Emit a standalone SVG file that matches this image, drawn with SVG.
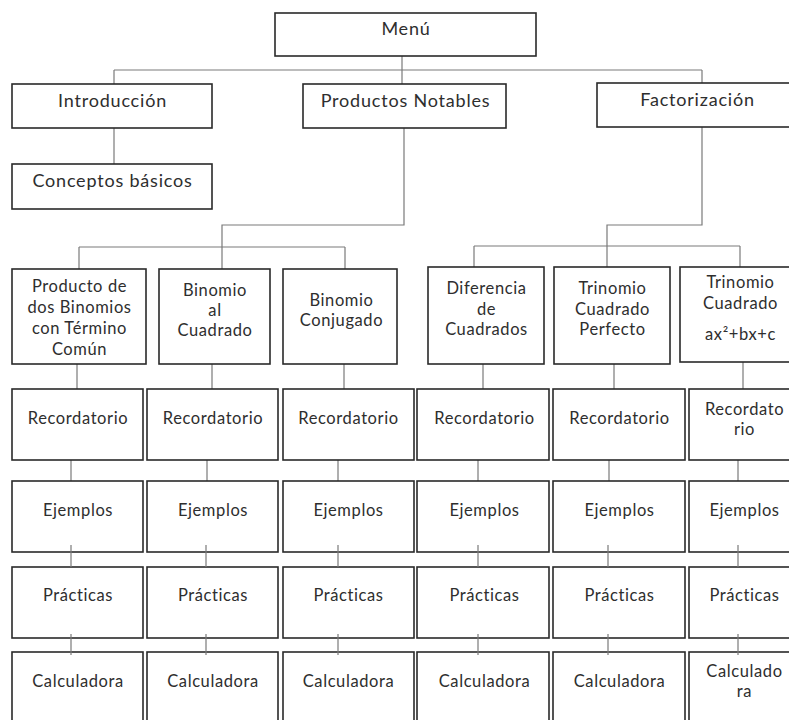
<svg xmlns="http://www.w3.org/2000/svg" width="789" height="720" viewBox="0 0 789 720">
  <style>
    .box { fill: #ffffff; stroke: #2a2a2a; stroke-width: 1.6; }
    .link { fill: none; stroke: #7a7a7a; stroke-width: 1.2; }
    .t { font-family: Lato, "Open Sans", "DejaVu Sans", sans-serif; fill: #2e2e2e; text-anchor: middle; }
    .big { font-size: 18px; letter-spacing: 0.8px; }
    .sm { font-size: 16.5px; letter-spacing: 0.6px; }
  </style>
  <rect width="789" height="720" fill="#ffffff"/>

  <!-- connectors -->
  <g id="connectors">
    <!-- menu to first level -->
    <path class="link" d="M402 56 V84"/>
    <path class="link" d="M114 70 H702"/>
    <path class="link" d="M114 70 V84"/>
    <path class="link" d="M702 70 V83"/>
    <path class="link" d="M114 128 V164"/>
    <!-- Productos Notables branch -->
    <path class="link" d="M404 128 V225 H222 V247"/>
    <path class="link" d="M79 247 H345"/>
    <path class="link" d="M79 247 V269"/>
    <path class="link" d="M222 247 V269"/>
    <path class="link" d="M345 247 V269"/>
    <!-- Factorizacion branch -->
    <path class="link" d="M702 127 V225 H607 V246"/>
    <path class="link" d="M474 246 H740"/>
    <path class="link" d="M474 246 V267"/>
    <path class="link" d="M607 246 V267"/>
    <path class="link" d="M740 246 V267"/>
    <!-- topic to Recordatorio -->
    <path class="link" d="M77 364 V389"/>
    <path class="link" d="M212 364 V389"/>
    <path class="link" d="M344 364 V389"/>
    <path class="link" d="M483 364 V389"/>
    <path class="link" d="M614 364 V389"/>
    <path class="link" d="M743 362 V389"/>
    <!-- Recordatorio to Ejemplos -->
    <path class="link" d="M71 460 V481"/>
    <path class="link" d="M207 460 V481"/>
    <path class="link" d="M338 460 V481"/>
    <path class="link" d="M478 460 V481"/>
    <path class="link" d="M609 460 V481"/>
    <path class="link" d="M738 460 V481"/>
  </g>

  <!-- top level -->
  <g id="menu"><rect class="box" x="275" y="13" width="261" height="43"/><text class="t big" x="406" y="35">Menú</text></g>
  <g id="introduccion"><rect class="box" x="12" y="84" width="200" height="44"/><text class="t big" x="112.5" y="107">Introducción</text></g>
  <g id="conceptos"><rect class="box" x="12" y="164" width="200" height="45"/><text class="t big" x="112.5" y="187">Conceptos básicos</text></g>
  <g id="productos"><rect class="box" x="303" y="84" width="203" height="44"/><text class="t big" x="405.5" y="107">Productos Notables</text></g>
  <g id="factorizacion"><rect class="box" x="597" y="83" width="200" height="44"/><text class="t big" x="697.5" y="106">Factorización</text></g>

  <!-- topics -->
  <g id="producto-binomios"><rect class="box" x="12" y="269" width="134" height="95"/>
    <text class="t sm" x="79.5" y="292">Producto de</text><text class="t sm" x="79.5" y="313">dos Binomios</text><text class="t sm" x="79.5" y="334">con Término</text><text class="t sm" x="79.5" y="355">Común</text></g>
  <g id="binomio-cuadrado"><rect class="box" x="159" y="269" width="111" height="95"/>
    <text class="t sm" x="215" y="296">Binomio</text><text class="t sm" x="215" y="316">al</text><text class="t sm" x="215" y="336">Cuadrado</text></g>
  <g id="binomio-conjugado"><rect class="box" x="283" y="269" width="114" height="95"/>
    <text class="t sm" x="341.5" y="306">Binomio</text><text class="t sm" x="341.5" y="326">Conjugado</text></g>
  <g id="diferencia-cuadrados"><rect class="box" x="428" y="267" width="116" height="97"/>
    <text class="t sm" x="486.5" y="294">Diferencia</text><text class="t sm" x="486.5" y="315">de</text><text class="t sm" x="486.5" y="335">Cuadrados</text></g>
  <g id="trinomio-perfecto"><rect class="box" x="554" y="267" width="116" height="97"/>
    <text class="t sm" x="612.5" y="294">Trinomio</text><text class="t sm" x="612.5" y="315">Cuadrado</text><text class="t sm" x="612.5" y="335">Perfecto</text></g>
  <g id="trinomio-general"><rect class="box" x="680" y="267" width="120" height="95"/>
    <text class="t sm" x="740.5" y="288">Trinomio</text><text class="t sm" x="740.5" y="309">Cuadrado</text><text class="t sm" x="740.5" y="340">ax²+bx+c</text></g>

  <!-- Recordatorio row -->
  <g id="rec-1"><rect class="box" x="12" y="389" width="131" height="71"/><text class="t sm" x="78" y="424">Recordatorio</text></g>
  <g id="rec-2"><rect class="box" x="147" y="389" width="131" height="71"/><text class="t sm" x="213" y="424">Recordatorio</text></g>
  <g id="rec-3"><rect class="box" x="283" y="389" width="131" height="71"/><text class="t sm" x="348.5" y="424">Recordatorio</text></g>
  <g id="rec-4"><rect class="box" x="417" y="389" width="132" height="71"/><text class="t sm" x="484.5" y="424">Recordatorio</text></g>
  <g id="rec-5"><rect class="box" x="553" y="389" width="132" height="71"/><text class="t sm" x="619.5" y="424">Recordatorio</text></g>
  <g id="rec-6"><rect class="box" x="689" y="389" width="110" height="71"/><text class="t sm" x="744.5" y="415">Recordato</text><text class="t sm" x="744.5" y="435">rio</text></g>

  <!-- Ejemplos row -->
  <g id="ej-1"><rect class="box" x="12" y="481" width="131" height="71"/><text class="t sm" x="78" y="516">Ejemplos</text></g>
  <g id="ej-2"><rect class="box" x="147" y="481" width="131" height="71"/><text class="t sm" x="213" y="516">Ejemplos</text></g>
  <g id="ej-3"><rect class="box" x="283" y="481" width="131" height="71"/><text class="t sm" x="348.5" y="516">Ejemplos</text></g>
  <g id="ej-4"><rect class="box" x="417" y="481" width="132" height="71"/><text class="t sm" x="484.5" y="516">Ejemplos</text></g>
  <g id="ej-5"><rect class="box" x="553" y="481" width="132" height="71"/><text class="t sm" x="619.5" y="516">Ejemplos</text></g>
  <g id="ej-6"><rect class="box" x="689" y="481" width="110" height="71"/><text class="t sm" x="744.5" y="516">Ejemplos</text></g>

  <!-- Practicas row -->
  <g id="pr-1"><rect class="box" x="12" y="567" width="131" height="71"/><text class="t sm" x="78" y="601">Prácticas</text></g>
  <g id="pr-2"><rect class="box" x="147" y="567" width="131" height="71"/><text class="t sm" x="213" y="601">Prácticas</text></g>
  <g id="pr-3"><rect class="box" x="283" y="567" width="131" height="71"/><text class="t sm" x="348.5" y="601">Prácticas</text></g>
  <g id="pr-4"><rect class="box" x="417" y="567" width="132" height="71"/><text class="t sm" x="484.5" y="601">Prácticas</text></g>
  <g id="pr-5"><rect class="box" x="553" y="567" width="132" height="71"/><text class="t sm" x="619.5" y="601">Prácticas</text></g>
  <g id="pr-6"><rect class="box" x="689" y="567" width="110" height="71"/><text class="t sm" x="744.5" y="601">Prácticas</text></g>

  <!-- Calculadora row -->
  <g id="calc-1"><rect class="box" x="12" y="652" width="131" height="80"/><text class="t sm" x="78" y="687">Calculadora</text></g>
  <g id="calc-2"><rect class="box" x="147" y="652" width="131" height="80"/><text class="t sm" x="213" y="687">Calculadora</text></g>
  <g id="calc-3"><rect class="box" x="283" y="652" width="131" height="80"/><text class="t sm" x="348.5" y="687">Calculadora</text></g>
  <g id="calc-4"><rect class="box" x="417" y="652" width="132" height="80"/><text class="t sm" x="484.5" y="687">Calculadora</text></g>
  <g id="calc-5"><rect class="box" x="553" y="652" width="132" height="80"/><text class="t sm" x="619.5" y="687">Calculadora</text></g>
  <g id="calc-6"><rect class="box" x="689" y="652" width="110" height="80"/><text class="t sm" x="744.5" y="677">Calculado</text><text class="t sm" x="744.5" y="697">ra</text></g>

  <!-- short ticks that run over the box edges between lower rows -->
  <g id="connectors-lower">
    <path class="link" d="M71 545 V567"/>
    <path class="link" d="M206 545 V567"/>
    <path class="link" d="M338 545 V567"/>
    <path class="link" d="M478 545 V567"/>
    <path class="link" d="M608 545 V567"/>
    <path class="link" d="M738 545 V567"/>
    <path class="link" d="M71 634 V655"/>
    <path class="link" d="M206 634 V655"/>
    <path class="link" d="M338 634 V655"/>
    <path class="link" d="M478 634 V655"/>
    <path class="link" d="M608 634 V655"/>
    <path class="link" d="M738 634 V655"/>
  </g>
</svg>
